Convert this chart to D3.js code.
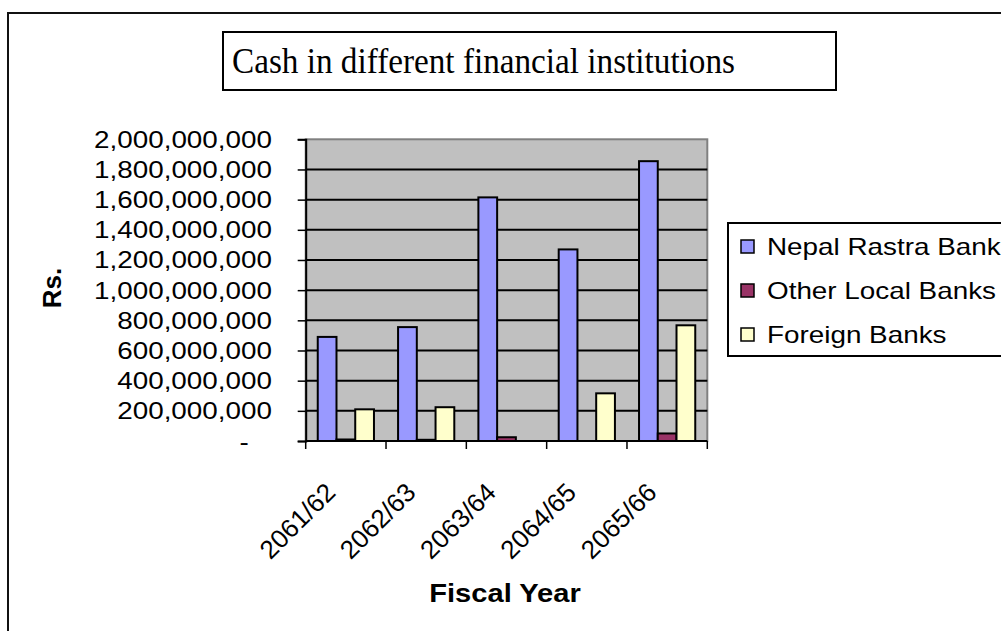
<!DOCTYPE html>
<html>
<head>
<meta charset="utf-8">
<script src="https://cdn.jsdelivr.net/npm/d3@7"></script>
<style>
  html, body { margin: 0; padding: 0; background: #ffffff; }
  svg { display: block; }
</style>
</head>
<body>
<svg id="chart" width="1001" height="631"></svg>
<script>
// Fiscal years on the category axis
const years = ["2061/62", "2062/63", "2063/64", "2064/65", "2065/66"];

// Cash held (Rs.) per institution type
const seriesNames = ["Nepal Rastra Bank", "Other Local Banks", "Foreign Banks"];
const nepalRastraBank = [690000000, 755000000, 1615000000, 1270000000, 1855000000];
const otherLocalBanks = [10000000, 8000000, 25000000, 0, 50000000];
const foreignBanks = [210000000, 224000000, 0, 316000000, 767000000];

// Value axis ticks
const yTicks = [0, 200000000, 400000000, 600000000, 800000000, 1000000000,
                1200000000, 1400000000, 1600000000, 1800000000, 2000000000];

const titleText = "Cash in different financial institutions";
const yTitle = "Rs.";
const xTitle = "Fiscal Year";

const colors = ["#9999FF", "#993366", "#FFFFCC"];
const seriesValues = [nepalRastraBank, otherLocalBanks, foreignBanks];

const svg = d3.select("#chart");
const sansFont = "'Liberation Sans', Arial, sans-serif";
const serifFont = "'Liberation Serif', 'Times New Roman', serif";
const stretch = 1.16;   // horizontal stretch of the sans text

// Outer chart border (runs off the right and bottom edges)
svg.append("rect")
  .attr("x", 8).attr("y", 13)
  .attr("width", 1010).attr("height", 640)
  .attr("fill", "#ffffff").attr("stroke", "#111").attr("stroke-width", 2);

// Title box
svg.append("rect")
  .attr("x", 223).attr("y", 32).attr("width", 613).attr("height", 58)
  .attr("fill", "#ffffff").attr("stroke", "#000").attr("stroke-width", 2);
svg.append("text")
  .attr("x", 232).attr("y", 73)
  .attr("font-family", serifFont).attr("font-size", 36)
  .attr("textLength", 503).attr("lengthAdjust", "spacingAndGlyphs")
  .attr("fill", "#000")
  .text(titleText);

// Plot area geometry
const plot = { left: 305.7, right: 707.3, top: 139.3, bottom: 441 };

const x = d3.scaleBand().domain(years).range([plot.left, plot.right]).padding(0);
const bw = x.bandwidth();
const xInner = d3.scaleBand().domain(seriesNames)
  .range([bw * 0.15, bw * 0.85]).padding(0);
const y = d3.scaleLinear().domain([0, 2000000000]).range([plot.bottom, plot.top]);

// Grey plot background
svg.append("rect")
  .attr("x", plot.left).attr("y", plot.top)
  .attr("width", plot.right - plot.left).attr("height", plot.bottom - plot.top)
  .attr("fill", "#C0C0C0").attr("stroke", "#808080").attr("stroke-width", 2);

// Horizontal gridlines
svg.append("g").selectAll("line")
  .data(yTicks.filter(d => d > 0 && d < 2000000000))
  .join("line")
  .attr("x1", plot.left).attr("x2", plot.right)
  .attr("y1", d => y(d)).attr("y2", d => y(d))
  .attr("stroke", "#000").attr("stroke-width", 2);

// Bars
const barData = [];
years.forEach((yr, i) => {
  seriesNames.forEach((s, k) => {
    barData.push({ year: yr, series: s, value: seriesValues[k][i], color: colors[k] });
  });
});
svg.append("g").selectAll("rect")
  .data(barData.filter(d => d.value > 0))
  .join("rect")
  .attr("x", d => x(d.year) + xInner(d.series))
  .attr("y", d => y(d.value))
  .attr("width", xInner.bandwidth())
  .attr("height", d => y(0) - y(d.value))
  .attr("fill", d => d.color)
  .attr("stroke", "#000").attr("stroke-width", 2);

// Value axis
const yAxis = d3.axisLeft(y).tickValues(yTicks).tickSize(8).tickFormat("");
const gy = svg.append("g").attr("transform", `translate(${plot.left},0)`).call(yAxis);
gy.select(".domain").attr("stroke", "#000").attr("stroke-width", 2);
gy.selectAll(".tick line").attr("stroke", "#000").attr("stroke-width", 1.5);

const fmt = d3.format(",");
svg.append("g").selectAll("g")
  .data(yTicks)
  .join("g")
  .attr("transform", d => `translate(272,${y(d) + 8.5}) scale(${stretch},1)`)
  .append("text")
  .attr("text-anchor", "end")
  .attr("font-family", sansFont).attr("font-size", 24)
  .attr("fill", "#000")
  .attr("dx", d => d === 0 ? -20 : 0)
  .text(d => d === 0 ? "-" : fmt(d));

// Category axis: ticks at band boundaries
const boundaries = years.map(d => x(d)).concat([plot.right]);
svg.append("g").selectAll("line")
  .data(boundaries)
  .join("line")
  .attr("x1", d => d).attr("x2", d => d)
  .attr("y1", plot.bottom).attr("y2", plot.bottom + 8)
  .attr("stroke", "#000").attr("stroke-width", 1.5);
svg.append("line")
  .attr("x1", plot.left).attr("x2", plot.right)
  .attr("y1", plot.bottom).attr("y2", plot.bottom)
  .attr("stroke", "#000").attr("stroke-width", 2);

// Rotated category labels
svg.append("g").selectAll("g")
  .data(years)
  .join("g")
  .attr("transform", d => `translate(${x(d) + bw / 2 - 9},494) rotate(-45)`)
  .append("text")
  .attr("text-anchor", "end")
  .attr("font-family", sansFont).attr("font-size", 26)
  .attr("fill", "#000")
  .text(d => d);

// Axis titles
svg.append("text")
  .attr("transform", "translate(61,288) rotate(-90)")
  .attr("text-anchor", "middle")
  .attr("font-family", sansFont).attr("font-size", 26).attr("font-weight", "bold")
  .attr("fill", "#000")
  .text(yTitle);

svg.append("g")
  .attr("transform", "translate(505,602) scale(1.12,1)")
  .append("text")
  .attr("text-anchor", "middle")
  .attr("font-family", sansFont).attr("font-size", 26).attr("font-weight", "bold")
  .attr("fill", "#000")
  .text(xTitle);

// Legend
svg.append("rect")
  .attr("x", 728).attr("y", 223).attr("width", 300).attr("height", 133)
  .attr("fill", "#ffffff").attr("stroke", "#000").attr("stroke-width", 2);

const legendRows = [246, 290, 334];
const lg = svg.append("g").selectAll("g")
  .data(seriesNames)
  .join("g")
  .attr("transform", (d, i) => `translate(741,${legendRows[i]})`);
lg.append("rect")
  .attr("x", 0).attr("y", -6).attr("width", 13).attr("height", 13)
  .attr("fill", (d, i) => colors[i])
  .attr("stroke", "#000").attr("stroke-width", 1.5);
lg.append("g")
  .attr("transform", `translate(26,9) scale(${stretch},1)`)
  .append("text")
  .attr("font-family", sansFont).attr("font-size", 24)
  .attr("fill", "#000")
  .text(d => d);
</script>
</body>
</html>
